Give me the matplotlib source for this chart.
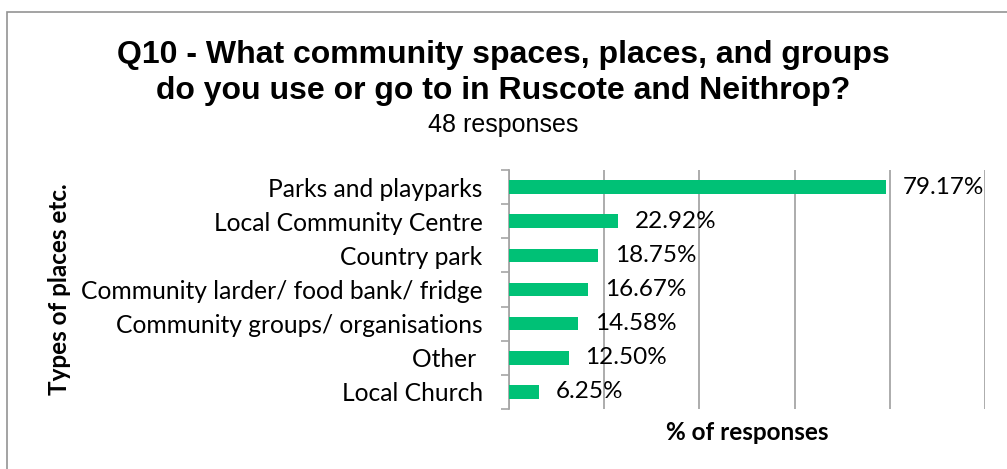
import matplotlib.pyplot as plt
from matplotlib.patches import Rectangle

# Survey answers, top row first
places = ["Parks and playparks", "Local Community Centre", "Country park",
          "Community larder/ food bank/ fridge", "Community groups/ organisations",
          "Other ", "Local Church"]
pct = [79.17, 22.92, 18.75, 16.67, 14.58, 12.50, 6.25]
grid_ticks = [0, 20, 40, 60, 80, 100]

bar_col = "#00c176"
grid_col = "#a6a6a6"
body_font = "Lato"

fig = plt.figure(figsize=(10.07, 4.69), dpi=100)
ax = fig.add_axes([0.5055, 0.128, 0.4725, 0.5095])

# outer chart frame
fig.patches.append(Rectangle((7 / 1007, -0.1), 1.2, 1.1 - 12 / 469,
                             transform=fig.transFigure, fill=False,
                             edgecolor="#939393", linewidth=1.2))

y = list(range(len(places)))
ax.barh(y, pct, height=0.4, color=bar_col, zorder=3)
for yi, v in zip(y, pct):
    ax.text(v + 3.5, yi, f"{v:.2f}%", va="center", ha="left",
            fontsize=17.5, family=body_font, color="black", zorder=4)

ax.set_xlim(0, 100)
ax.set_ylim(len(places) - 0.5, -0.5)
ax.set_xticks(grid_ticks)
ax.set_xticklabels([])
ax.tick_params(axis="x", length=0)
ax.grid(axis="x", color=grid_col, linewidth=1.3, zorder=0)

ax.set_yticks(y)
ax.set_yticklabels(places, family=body_font, fontsize=17.7)
ax.tick_params(axis="y", which="major", length=0, pad=19)
ax.set_yticks([i - 0.5 for i in range(len(places) + 1)], minor=True)
ax.tick_params(axis="y", which="minor", length=6, width=1.2, color=grid_col)

for s in ["top", "right", "bottom"]:
    ax.spines[s].set_visible(False)
ax.spines["left"].set_color(grid_col)
ax.spines["left"].set_linewidth(1.3)

ax.set_xlabel("% of responses", family=body_font, fontsize=17.5,
              fontweight="bold", labelpad=5)
ax.set_ylabel("Types of places etc.", family=body_font, fontsize=17.5,
              fontweight="bold")
ax.yaxis.set_label_coords(-0.92, 0.5)

fig.text(0.5, 1 - 63 / 469, "Q10 - What community spaces, places, and groups",
         ha="center", va="baseline", family="Liberation Sans",
         fontweight="bold", fontsize=23)
fig.text(0.5, 1 - 99 / 469, "do you use or go to in Ruscote and Neithrop?",
         ha="center", va="baseline", family="Liberation Sans",
         fontweight="bold", fontsize=23)
fig.text(0.5, 1 - 132 / 469, "48 responses", ha="center", va="baseline",
         family="Liberation Sans", fontsize=18)

fig.savefig("out.png", dpi=100)
